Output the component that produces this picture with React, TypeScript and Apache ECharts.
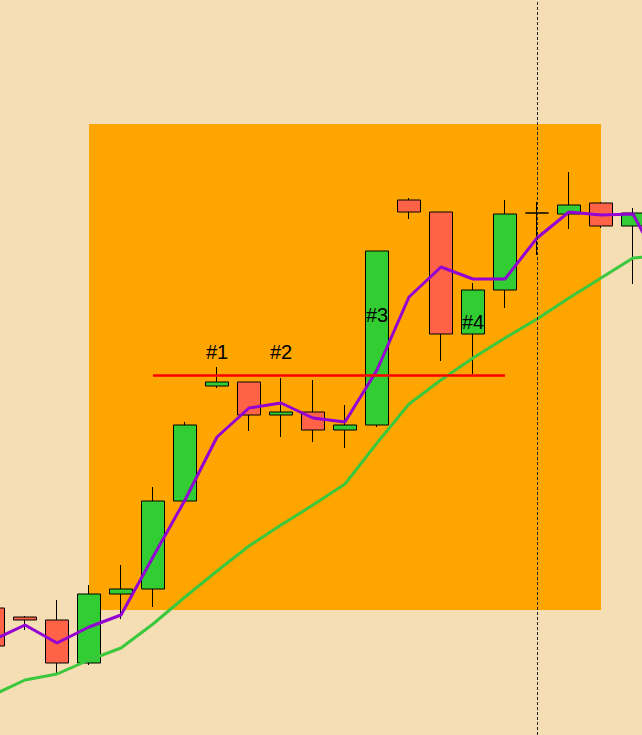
import React, { useEffect, useRef } from "react";
import * as echarts from "echarts";

// Sessions (x categories)
const categories = [
  "S01", "S02", "S03", "S04", "S05", "S06", "S07", "S08", "S09", "S10", "S11",
  "S12", "S13", "S14", "S15", "S16", "S17", "S18", "S19", "S20", "S21", "S22",
];

// OHLC values
const opens = [12.7, 11.8, 11.5, 7.2, 14.1, 14.6, 23.4, 34.9, 35.3, 32.0, 32.3, 30.5, 31.0, 53.5, 52.3, 40.1, 44.5, 52.2, 52.1, 53.2, 50.9, 52.0];
const closes = [8.9, 11.5, 7.2, 14.1, 14.6, 23.4, 31.0, 35.3, 32.0, 32.3, 30.5, 31.0, 48.4, 52.3, 40.1, 44.5, 52.1, 52.2, 53.0, 50.9, 52.2, 44.0];
const lows = [8.0, 10.5, 6.2, 7.0, 11.6, 12.8, 23.4, 34.7, 30.4, 29.8, 29.3, 28.7, 30.8, 51.6, 37.4, 36.1, 42.7, 48.0, 50.6, 50.7, 45.1, 43.0];
const highs = [13.5, 11.9, 13.5, 15.0, 17.0, 24.8, 31.3, 36.8, 35.3, 35.7, 35.5, 33.0, 48.4, 53.7, 52.3, 45.2, 53.5, 53.3, 56.3, 53.3, 52.7, 52.5];

// Moving averages
const fastMA = [9.5, 11.0, 9.2, 10.8, 12.0, 17.8, 23.5, 29.8, 32.7, 33.2, 31.7, 31.3, 36.5, 43.8, 46.8, 45.6, 45.6, 49.7, 52.3, 52.0, 52.1, 46.1];
const slowMA = [4.0, 5.5, 6.1, 7.5, 8.7, 11.1, 13.8, 16.4, 18.9, 21.0, 23.0, 25.1, 29.2, 33.1, 35.5, 37.7, 39.7, 41.6, 43.7, 45.7, 47.7, 48.0];

// Annotations
const zoneStart = 3;
const zoneEnd = 19;
const zoneLow = 12.5;
const zoneHigh = 61.1;
const levelValue = 35.95;
const levelStart = 5;
const levelEnd = 16;
const cursorIndex = 17;
const tagTexts = ["#1", "#2", "#3", "#4"];
const tagIndices = [7, 9, 12, 15];
const tagValues = [38.3, 38.3, 42.0, 41.35];

const yMin = 0;
const yMax = 73.5;

export default function App() {
  const ref = useRef<HTMLDivElement>(null);

  useEffect(() => {
    if (!ref.current) return;
    const chart = echarts.init(ref.current, undefined, { renderer: "svg" });

    const ohlc = categories.map((_, i) => [opens[i], closes[i], lows[i], highs[i]]);
    const font = "'Liberation Sans', Arial, Helvetica, sans-serif";

    chart.setOption({
      animation: false,
      backgroundColor: "#F5DEB3",
      grid: {
        left: -23,
        top: 0,
        width: 32 * categories.length,
        height: 735,
        containLabel: false,
        outerBoundsMode: "none",
      },
      xAxis: {
        type: "category",
        data: categories,
        boundaryGap: true,
        show: false,
      },
      yAxis: {
        type: "value",
        min: yMin,
        max: yMax,
        show: false,
        splitLine: { show: false },
      },
      series: [
        {
          name: "zone",
          type: "line",
          z: 1,
          data: categories.map(() => "-"),
          showSymbol: false,
          silent: true,
          markArea: {
            silent: true,
            itemStyle: { color: "#FFA500", opacity: 1 },
            data: [
              [
                { coord: [categories[zoneStart], zoneHigh] },
                { coord: [categories[zoneEnd], zoneLow] },
              ],
            ],
          },
        },
        {
          name: "price",
          type: "candlestick",
          z: 2,
          barWidth: 24,
          data: ohlc,
          itemStyle: {
            color: "#32CD32",
            color0: "#FF6347",
            borderColor: "#000000",
            borderColor0: "#000000",
            borderColorDoji: "#000000",
            borderWidth: 1,
          },
        },
        {
          name: "slow",
          type: "line",
          z: 3,
          data: slowMA,
          showSymbol: false,
          symbol: "none",
          lineStyle: { color: "#3CC83C", width: 3 },
        },
        {
          name: "fast",
          type: "line",
          z: 4,
          data: fastMA,
          showSymbol: false,
          symbol: "none",
          lineStyle: { color: "#9400D3", width: 3 },
        },
        {
          name: "overlay",
          type: "line",
          z: 5,
          data: categories.map(() => "-"),
          showSymbol: false,
          silent: true,
          markLine: {
            silent: true,
            symbol: ["none", "none"],
            label: { show: false },
            data: [
              {
                xAxis: categories[cursorIndex],
                lineStyle: { color: "#222222", width: 1, type: [3, 2] },
              },
              [
                {
                  coord: [categories[levelStart], levelValue],
                  lineStyle: { color: "#FF0000", width: 2.5, type: "solid" },
                },
                { coord: [categories[levelEnd], levelValue] },
              ],
            ],
          },
          markPoint: {
            silent: true,
            symbol: "circle",
            symbolSize: 1,
            itemStyle: { color: "rgba(0,0,0,0)" },
            label: {
              show: true,
              position: "inside",
              formatter: "{b}",
              color: "#000000",
              fontSize: 20,
              fontFamily: font,
            },
            data: tagTexts.map((t, i) => ({
              name: t,
              coord: [categories[tagIndices[i]], tagValues[i]],
            })),
          },
        },
      ],
    });

    return () => chart.dispose();
  }, []);

  return (
    <div
      ref={ref}
      style={{ position: "fixed", left: 0, top: 0, width: 642, height: 735 }}
    />
  );
}
